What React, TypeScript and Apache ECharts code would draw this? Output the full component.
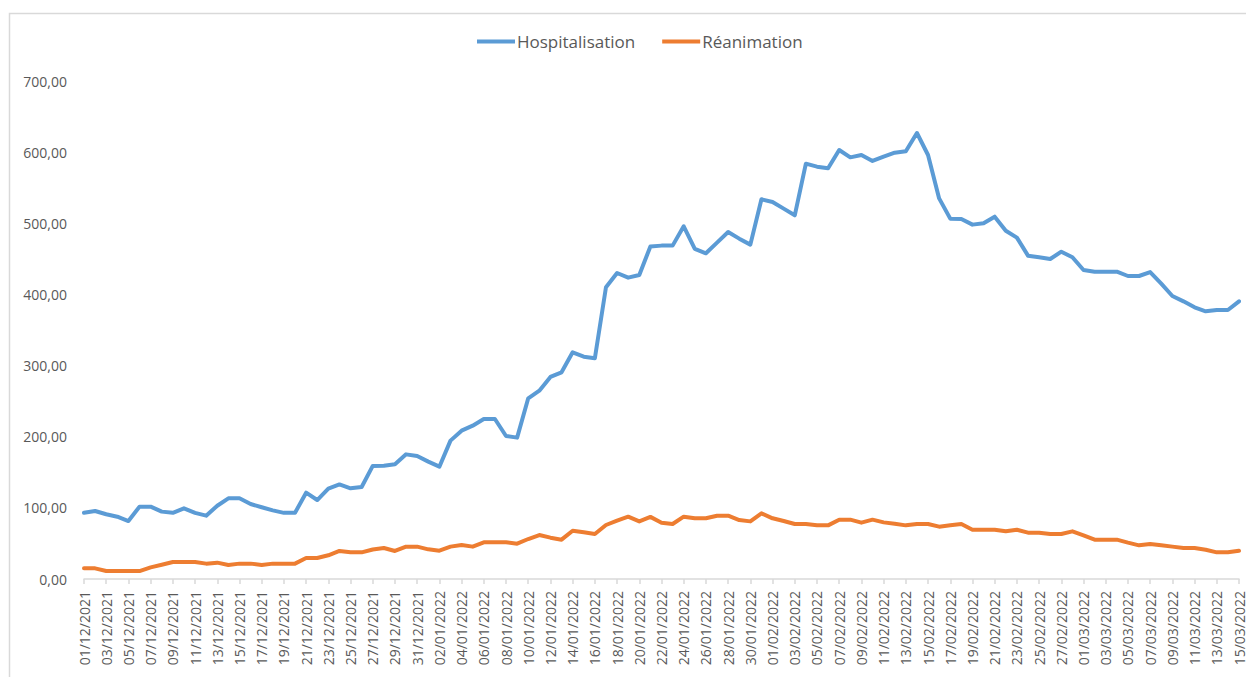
import React, { useEffect, useRef } from "react";
import * as echarts from "echarts";

const categories: string[] = [
  "01/12/2021", "02/12/2021", "03/12/2021", "04/12/2021", "05/12/2021", "06/12/2021", "07/12/2021", "08/12/2021", "09/12/2021", "10/12/2021",
  "11/12/2021", "12/12/2021", "13/12/2021", "14/12/2021", "15/12/2021", "16/12/2021", "17/12/2021", "18/12/2021", "19/12/2021", "20/12/2021",
  "21/12/2021", "22/12/2021", "23/12/2021", "24/12/2021", "25/12/2021", "26/12/2021", "27/12/2021", "28/12/2021", "29/12/2021", "30/12/2021",
  "31/12/2021", "01/01/2022", "02/01/2022", "03/01/2022", "04/01/2022", "05/01/2022", "06/01/2022", "07/01/2022", "08/01/2022", "09/01/2022",
  "10/01/2022", "11/01/2022", "12/01/2022", "13/01/2022", "14/01/2022", "15/01/2022", "16/01/2022", "17/01/2022", "18/01/2022", "19/01/2022",
  "20/01/2022", "21/01/2022", "22/01/2022", "23/01/2022", "24/01/2022", "25/01/2022", "26/01/2022", "27/01/2022", "28/01/2022", "29/01/2022",
  "30/01/2022", "31/01/2022", "01/02/2022", "02/02/2022", "03/02/2022", "04/02/2022", "05/02/2022", "06/02/2022", "07/02/2022", "08/02/2022",
  "09/02/2022", "10/02/2022", "11/02/2022", "12/02/2022", "13/02/2022", "14/02/2022", "15/02/2022", "16/02/2022", "17/02/2022", "18/02/2022",
  "19/02/2022", "20/02/2022", "21/02/2022", "22/02/2022", "23/02/2022", "24/02/2022", "25/02/2022", "26/02/2022", "27/02/2022", "28/02/2022",
  "01/03/2022", "02/03/2022", "03/03/2022", "04/03/2022", "05/03/2022", "06/03/2022", "07/03/2022", "08/03/2022", "09/03/2022", "10/03/2022",
  "11/03/2022", "12/03/2022", "13/03/2022", "14/03/2022", "15/03/2022",
];

const hospitalisation: number[] = [
  93, 95.6, 91, 87.6, 81.5, 101.7, 101.7, 94.7, 93, 99.3,
  93, 89, 103, 113.4, 113.4, 105.4, 100.8, 96.5, 93, 93,
  121.3, 111, 127, 133, 127.5, 129.3, 159, 159.3, 161.2, 175.2,
  172.9, 165, 157.9, 194.5, 208.5, 215.5, 224.9, 224.9, 201, 198.7,
  254, 264.7, 284, 290.5, 318.6, 312.5, 310.2, 410, 430.1, 423.6,
  427.3, 467.5, 468.6, 468.6, 495.7, 463.9, 457.8, 472.8, 487.8, 478.4,
  470, 533.7, 529.9, 520.6, 511.2, 583.8, 579.6, 577.3, 603, 592.7,
  596, 587.6, 593.7, 599.3, 601.2, 626.9, 596, 535, 506.5, 506,
  498.1, 500, 509.3, 489.6, 479.8, 454.5, 452.2, 449.8, 460.1, 452.2,
  434.4, 432, 432, 432, 425.9, 425.9, 431.5, 415.2, 397.8, 390.3,
  381.9, 376.3, 378.1, 378.1, 390.3,
];

const reanimation: number[] = [
  15, 15, 11.2, 11.2, 11.2, 11.2, 16.4, 20, 23.9, 24,
  24, 21.6, 23, 19.7, 21.6, 21.6, 19.7, 21.6, 21.6, 21.6,
  29.5, 29.5, 33.3, 39.4, 37.5, 37.5, 41.5, 43.6, 39.4, 45.5,
  45.5, 41.7, 39.8, 45.5, 47.8, 45.5, 51.5, 51.5, 51.5, 49.7,
  56.2, 61.8, 58.1, 55.3, 67.9, 65.6, 63.3, 75.9, 82, 87.6,
  81, 87.3, 79.2, 77.3, 87.6, 85.3, 85.3, 89, 89, 82.9,
  81, 92.3, 85.3, 81.5, 77.3, 77.3, 75.4, 75.4, 83.4, 83.4,
  79.2, 83.4, 79.6, 77.8, 75.4, 77.3, 77.3, 73.6, 75.4, 77.3,
  69.3, 69.3, 69.3, 67, 69.3, 65.1, 65.1, 63.3, 63.3, 67,
  61.4, 55.3, 55.3, 55.3, 51.1, 47.3, 49.2, 47.3, 45.5, 43.6,
  43.6, 41.2, 37.5, 37.5, 39.8,
];

const seriesNames: string[] = ["Hospitalisation", "Réanimation"];
const seriesColors: string[] = ["#5B9BD5", "#ED7D31"];

const FONT = "'Open Sans', 'DejaVu Sans', sans-serif";
const TEXT_COLOR = "#595959";

export default function App() {
  const ref = useRef<HTMLDivElement>(null);

  useEffect(() => {
    document.body.style.margin = "0";
    if (!ref.current) return;
    const chart = echarts.init(ref.current, undefined, { renderer: "svg" });
    chart.setOption({
      animation: false,
      backgroundColor: "#ffffff",
      textStyle: { fontFamily: FONT },
      graphic: [
        {
          type: "rect",
          shape: { x: 9.5, y: 13.5, width: 1260, height: 700 },
          style: { fill: "none", stroke: "#d9d9d9", lineWidth: 1.5 },
          silent: true,
        },
      ],
      legend: {
        left: 472,
        top: 28,
        icon: "rect",
        itemWidth: 38,
        itemHeight: 4,
        itemGap: 27,
        textStyle: { color: TEXT_COLOR, fontSize: 17, fontFamily: FONT, padding: [0, 0, 0, -3] },
        data: seriesNames,
      },
      grid: { left: 84, right: 5, top: 81, bottom: 98, containLabel: false },
      xAxis: {
        type: "category",
        data: categories,
        boundaryGap: false,
        axisLine: { lineStyle: { color: "#d9d9d9", width: 1.5 } },
        axisTick: { interval: 1, length: 5, lineStyle: { color: "#d9d9d9", width: 1.5 } },
        axisLabel: {
          interval: 1,
          rotate: 90,
          color: TEXT_COLOR,
          fontSize: 14,
          fontFamily: FONT,
          margin: 12,
        },
        splitLine: { show: false },
      },
      yAxis: {
        type: "value",
        min: 0,
        max: 700,
        interval: 100,
        axisLine: { show: false },
        axisTick: { show: false },
        splitLine: { show: false },
        axisLabel: {
          color: TEXT_COLOR,
          fontSize: 14,
          fontFamily: FONT,
          margin: 17,
          formatter: (v: number) => v.toFixed(2).replace(".", ","),
        },
      },
      series: [
        {
          name: seriesNames[0],
          type: "line",
          data: hospitalisation,
          showSymbol: false,
          symbol: "none",
          lineStyle: { color: seriesColors[0], width: 4, join: "round", cap: "round" },
          itemStyle: { color: seriesColors[0] },
        },
        {
          name: seriesNames[1],
          type: "line",
          data: reanimation,
          showSymbol: false,
          symbol: "none",
          lineStyle: { color: seriesColors[1], width: 4, join: "round", cap: "round" },
          itemStyle: { color: seriesColors[1] },
        },
      ],
    });
    return () => chart.dispose();
  }, []);

  return <div ref={ref} style={{ width: 1246, height: 677 }} />;
}
